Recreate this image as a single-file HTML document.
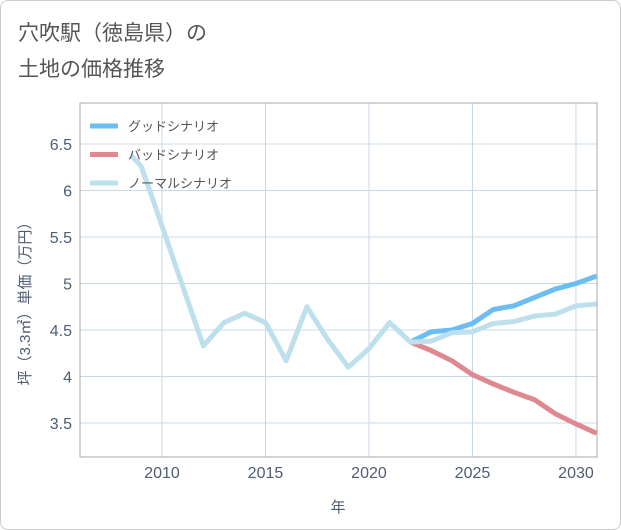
<!DOCTYPE html>
<html><head><meta charset="utf-8"><style>
body{margin:0;background:#fff;font-family:"Liberation Sans","Noto Sans CJK JP",sans-serif}
#card{position:absolute;left:0;top:0;width:619px;height:528px;border:1px solid #ccc;border-radius:8px;background:#fff}
</style></head><body>
<div id="card"></div>
<svg id="svg" width="621" height="530" style="position:absolute;left:0;top:0">
<text x="18" y="40" font-size="21" fill="#555">穴吹駅（徳島県）の</text>
<text x="18" y="76" font-size="21" fill="#555">土地の価格推移</text>
<g id="grid"></g><g id="lines"></g>
<rect x="80" y="103" width="517" height="354" fill="none" stroke="#aaa"/>
<g id="legend"></g>
<text x="338" y="512" font-size="15" fill="#4d5d73" text-anchor="middle">年</text>
<text transform="translate(30,300) rotate(-90)" font-size="15" fill="#4d5d73" text-anchor="middle">坪（3.3㎡）単価（万円）</text>
</svg>
<script>
const xTicks=[2010,2015,2020,2025,2030];
const yTicks=[3.5,4,4.5,5,5.5,6,6.5];
const normalYears=[2008.5,2009,2010,2011,2012,2013,2014,2015,2016,2017,2018,2019,2020,2021,2022,2023,2024,2025,2026,2027,2028,2029,2030,2031];
const normalVals=[6.38,6.26,5.62,4.97,4.33,4.58,4.68,4.58,4.17,4.75,4.4,4.1,4.3,4.58,4.37,4.38,4.47,4.48,4.57,4.59,4.65,4.67,4.76,4.78];
const futureYears=[2022,2023,2024,2025,2026,2027,2028,2029,2030,2031];
const goodVals=[4.37,4.48,4.5,4.57,4.72,4.76,4.85,4.94,5.0,5.08];
const badVals=[4.37,4.28,4.17,4.02,3.92,3.83,3.75,3.6,3.49,3.39];
const NS='http://www.w3.org/2000/svg';
const X=v=>80+(v-2006.04)*20.7, Y=v=>144+(6.5-v)*93;
function mk(t,a,p){const e=document.createElementNS(NS,t);for(const k in a)e.setAttribute(k,a[k]);p.appendChild(e);return e;}
const g=document.getElementById('grid');
xTicks.forEach(t=>{const l=mk('line',{x1:X(t),x2:X(t),y1:103,y2:457,stroke:'#c8d8e8'},g);


const s=mk('text',{x:X(t),y:478,'font-size':16,fill:'#4d5d73','text-anchor':'middle'},g);s.textContent=t;

});
yTicks.forEach(t=>{const l=mk('line',{x1:80,x2:597,y1:Y(t),y2:Y(t),stroke:'#c8d8e8'},g);


const s=mk('text',{x:72,y:Y(t)+6,'font-size':16,fill:'#4d5d73','text-anchor':'end'},g);s.textContent=t;

});
const L=document.getElementById('lines');
function line(xs,ys,c,n){const p=mk('polyline',{points:xs.map((x,i)=>X(x)+','+Y(ys[i])).join(' '),fill:'none',stroke:c,'stroke-width':5,'stroke-linejoin':'round'},L);

}
line(futureYears,badVals,'#e0888f','bad-scenario-line');
line(futureYears,goodVals,'#6bbdf3','good-scenario-line');
line(normalYears,normalVals,'#bde0ec','normal-scenario-line');
const lg=document.getElementById('legend');
[['グッドシナリオ','#6bbdf3'],['バッドシナリオ','#e0888f'],['ノーマルシナリオ','#bde0ec']].forEach((d,i)=>{
const y=126+i*28.5;
const r=mk('line',{x1:90,x2:118,y1:y,y2:y,stroke:d[1],'stroke-width':5},lg);


const t=mk('text',{x:128,y:y+5,'font-size':13,fill:'#555'},lg);t.textContent=d[0];

});
</script>
</body></html>
